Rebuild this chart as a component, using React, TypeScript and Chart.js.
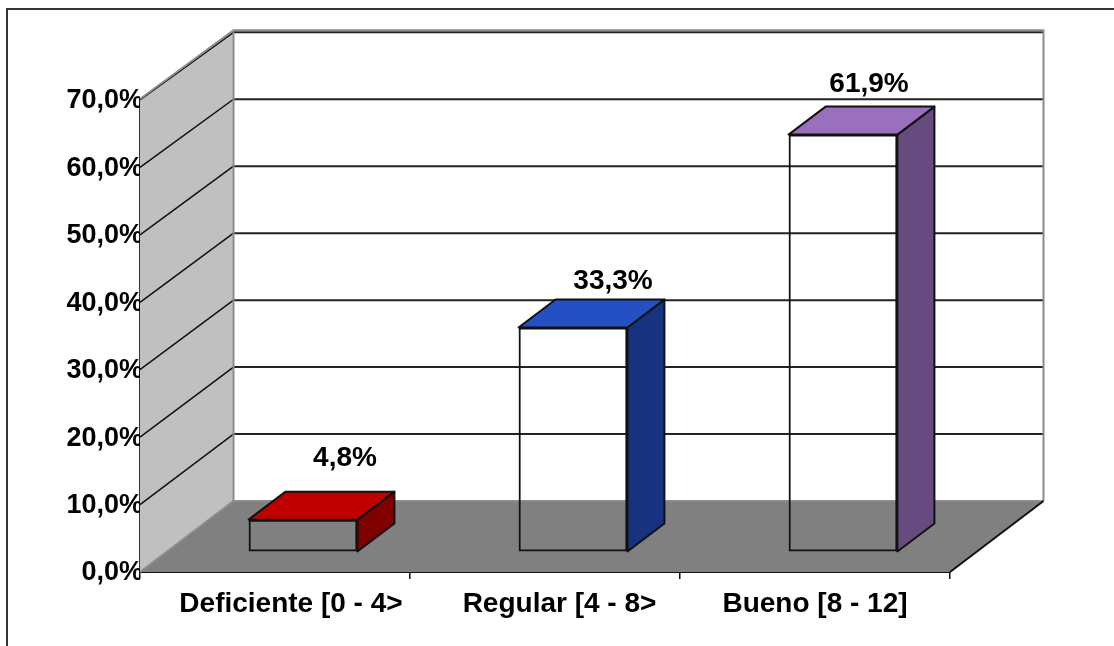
import React, { useEffect, useRef } from "react";
import { Chart, registerables } from "chart.js";

Chart.register(...registerables);

const categories = ["Deficiente [0 - 4>", "Regular [4 - 8>", "Bueno [8 - 12]"];
const percentages = [4.8, 33.3, 61.9];
const yTicks = [0, 10, 20, 30, 40, 50, 60, 70];

const topColors = ["#C00000", "#2450C4", "#9A70BE"];
const sideColors = ["#800000", "#17337F", "#664C7E"];
const categoryLabelNudge = [16, 14.5, 0];
const valueLabelNudge = [
  [42, -61],
  [40, -46],
  [26, -50],
];

const FONT = "bold 28px 'Liberation Sans', Arial, sans-serif";
const INK = "#111111";
const WALL = "#C0C0C0";
const FLOOR = "#808080";
const WALL_EDGE = "#8C8C8C";
const DEPTH_X = 93.5;
const DEPTH_Y = 71;
const BACK_SCALE = 0.993;
const BAR_SHIFT_X = 28;
const BAR_SHIFT_Y = 20;
const BAR_DEPTH_X = 37;
const BAR_DEPTH_Y = 28;

const fmt = (v: number) => v.toFixed(1).replace(".", ",") + "%";

function line(ctx: any, pts: number[][], color: string, width: number) {
  ctx.beginPath();
  pts.forEach((p, i) => (i ? ctx.lineTo(p[0], p[1]) : ctx.moveTo(p[0], p[1])));
  ctx.strokeStyle = color;
  ctx.lineWidth = width;
  ctx.stroke();
}

function poly(ctx: any, pts: number[][], fill: string) {
  ctx.beginPath();
  pts.forEach((p, i) => (i ? ctx.lineTo(p[0], p[1]) : ctx.moveTo(p[0], p[1])));
  ctx.closePath();
  ctx.fillStyle = fill;
  ctx.fill();
  ctx.strokeStyle = INK;
  ctx.lineWidth = 2;
  ctx.lineJoin = "round";
  ctx.stroke();
}

const scene3d = {
  id: "scene3d",
  beforeDatasetsDraw(chart: any) {
    const { ctx, scales } = chart;
    const x = scales.x;
    const y = scales.y;
    const left = x.left;
    const right = x.right;
    const y0 = y.getPixelForValue(0);
    const yMax = y.getPixelForValue(70);
    const backY = (py: number) => y0 - DEPTH_Y + (py - y0) * BACK_SCALE;
    const bx0 = left + DEPTH_X;
    const bx1 = right + DEPTH_X;
    ctx.save();
    // frame
    line(ctx, [[7, 646], [7, 9], [1114, 9]], "#333333", 2);
    // left wall
    ctx.beginPath();
    ctx.moveTo(left, y0);
    ctx.lineTo(left, yMax);
    ctx.lineTo(bx0, backY(yMax));
    ctx.lineTo(bx0, backY(y0));
    ctx.closePath();
    ctx.fillStyle = WALL;
    ctx.fill();
    // floor
    ctx.beginPath();
    ctx.moveTo(left, y0);
    ctx.lineTo(right, y0);
    ctx.lineTo(bx1, backY(y0));
    ctx.lineTo(bx0, backY(y0));
    ctx.closePath();
    ctx.fillStyle = FLOOR;
    ctx.fill();
    // gridlines
    yTicks.forEach((t) => {
      if (t === 0) return;
      const py = y.getPixelForValue(t);
      line(ctx, [[left, py], [bx0, backY(py)]], INK, 1.5);
      line(ctx, [[bx0, backY(py)], [bx1, backY(py)]], "#222222", 2);
    });
    // wall edges
    line(ctx, [[left, yMax - 1], [bx0, backY(yMax) - 2], [bx1, backY(yMax) - 2], [bx1, backY(y0)]], WALL_EDGE, 2);
    line(ctx, [[bx0, backY(yMax)], [bx0, backY(y0)], [bx1, backY(y0)]], WALL_EDGE, 2);
    line(ctx, [[left, y0], [bx0, backY(y0)]], WALL_EDGE, 2);
    line(ctx, [[right, y0], [bx1, backY(y0)]], INK, 2);
    line(ctx, [[right + 2, y0 + 1], [bx1 + 1, backY(y0) + 2]], "#FFFFFF", 1);
    ctx.restore();
    ctx.save();
    ctx.translate(BAR_SHIFT_X, -BAR_SHIFT_Y);
  },
  afterDatasetsDraw(chart: any) {
    const { ctx } = chart;
    ctx.restore();
    const bars = chart.getDatasetMeta(0).data;
    ctx.save();
    bars.forEach((bar: any, i: number) => {
      const half = bar.width / 2;
      const l = bar.x - half + BAR_SHIFT_X;
      const r = bar.x + half + BAR_SHIFT_X;
      const t = bar.y - BAR_SHIFT_Y;
      const b = bar.base - BAR_SHIFT_Y;
      poly(ctx, [[r, t], [r + BAR_DEPTH_X, t - BAR_DEPTH_Y], [r + BAR_DEPTH_X, b - BAR_DEPTH_Y], [r, b]], sideColors[i]);
      poly(ctx, [[l, t], [l + BAR_DEPTH_X, t - BAR_DEPTH_Y], [r + BAR_DEPTH_X, t - BAR_DEPTH_Y], [r, t]], topColors[i]);
      ctx.fillStyle = "#000000";
      ctx.font = FONT;
      ctx.textAlign = "center";
      ctx.textBaseline = "middle";
      ctx.fillText(fmt(percentages[i]), bar.x + BAR_SHIFT_X + valueLabelNudge[i][0], t + valueLabelNudge[i][1]);
    });
    ctx.restore();
  },
  afterDraw(chart: any) {
    const { ctx, scales } = chart;
    ctx.save();
    ctx.fillStyle = "#000000";
    ctx.font = FONT;
    ctx.textAlign = "center";
    ctx.textBaseline = "middle";
    categories.forEach((c, i) => {
      ctx.fillText(c, scales.x.getPixelForTick(i) + categoryLabelNudge[i], 604);
    });
    ctx.restore();
  },
};

export default function App() {
  const ref = useRef<HTMLCanvasElement>(null);
  useEffect(() => {
    const chart = new Chart(ref.current as HTMLCanvasElement, {
      type: "bar",
      data: {
        labels: categories,
        datasets: [
          {
            data: percentages,
            backgroundColor: "rgba(0,0,0,0)",
            borderColor: INK,
            borderWidth: 2,
            borderSkipped: false,
            barPercentage: 0.403,
            categoryPercentage: 1,
            clip: false,
          } as any,
        ],
      },
      options: {
        responsive: false,
        animation: false,
        layout: { padding: { top: 100, right: 164, left: 0, bottom: 0 } },
        plugins: { legend: { display: false }, tooltip: { enabled: false }, title: { display: false } },
        scales: {
          x: {
            afterFit: (s: any) => {
              s.height = 74;
            },
            grid: { drawOnChartArea: false, offset: true, tickLength: 7, color: INK, lineWidth: 1.5 },
            border: { display: true, color: INK, width: 2 },
            ticks: { display: false },
          },
          y: {
            min: 0,
            max: 70,
            afterFit: (s: any) => {
              s.width = 140;
            },
            grid: { drawOnChartArea: false, drawTicks: false },
            border: { display: true, color: "#333333", width: 2 },
            ticks: {
              stepSize: 10,
              padding: -3,
              labelOffset: 1,
              color: "#000000",
              font: { family: "'Liberation Sans', Arial, sans-serif", size: 27, weight: "bold" },
              callback: (v: any) => fmt(Number(v)),
            },
          },
        },
      } as any,
      plugins: [scene3d],
    });
    return () => chart.destroy();
  }, []);
  return (
    <canvas
      ref={ref}
      width={1114}
      height={646}
      style={{ position: "absolute", left: 0, top: 0, width: 1114, height: 646, background: "#FFFFFF" }}
    />
  );
}
